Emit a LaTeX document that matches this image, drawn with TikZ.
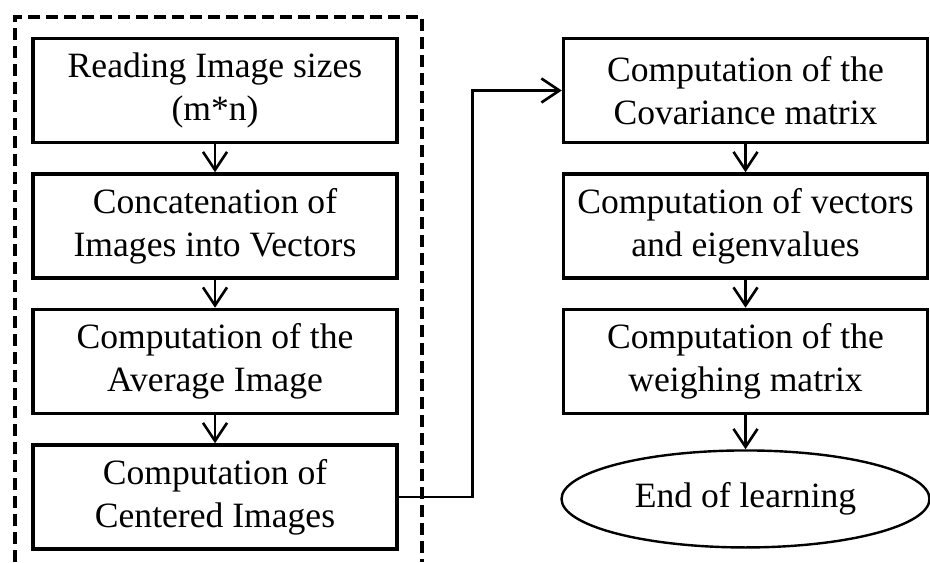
\documentclass[tikz,border=0pt]{standalone}
\usepackage{fontspec}
\setmainfont{Liberation Serif}
\usetikzlibrary{shapes,arrows.meta,positioning}
\tikzstyle{block} = [draw, line width=1.75pt, rectangle, align=center,
    minimum height=52pt, minimum width=182pt, inner sep=2pt,
    font=\fontsize{17.8}{21.5}\selectfont]
\tikzstyle{terminal} = [draw, line width=1.2pt, ellipse, inner sep=0pt,
    minimum height=48.5pt, minimum width=184pt,
    font=\fontsize{17.8}{21.5}\selectfont]
\tikzstyle{frame} = [line width=2.25pt, dash pattern=on 6pt off 3pt]
\tikzstyle{line} = [draw, line width=1.3pt]

\begin{document}
\begin{tikzpicture}[auto, node distance=14pt, x=0.5pt, y=0.5pt,
    >={Straight Barb[length=9pt,width=12pt]}]
    \useasboundingbox (0,0) rectangle (930,562);
    % We start by placing the blocks of the first part
    \node [block] (read) at (215,471.5) {Reading Image sizes\\(m*n)};
    \node [block, below=of read] (concat) {Concatenation of\\Images into Vectors};
    \node [block, below=of concat] (average) {Computation of the\\Average Image};
    \node [block, below=of average] (centered) {Computation of\\Centered Images};
    % Then the blocks of the second part
    \node [block, right=81.5pt of read] (covar) {Computation of the\\Covariance matrix};
    \node [block, below=of covar] (eigen) {Computation of vectors\\and eigenvalues};
    \node [block, below=of eigen] (weigh) {Computation of the\\weighing matrix};
    \node [terminal, below=17pt of weigh] (end) {End of learning};
    % The dashed frame round the first part
    \draw [frame] (15,0) -- (15,545) -- (422,545) -- (422,0);
    % We draw the edges between the blocks
    \draw [->, line] (read) -- (concat);
    \draw [->, line] (concat) -- (average);
    \draw [->, line] (average) -- (centered);
    \draw [->, line] (centered.east) -- ++(74,0) |- (covar.west);
    \draw [->, line] (covar) -- (eigen);
    \draw [->, line] (eigen) -- (weigh);
    \draw [->, line] (weigh) -- (end);
\end{tikzpicture}
\end{document}
